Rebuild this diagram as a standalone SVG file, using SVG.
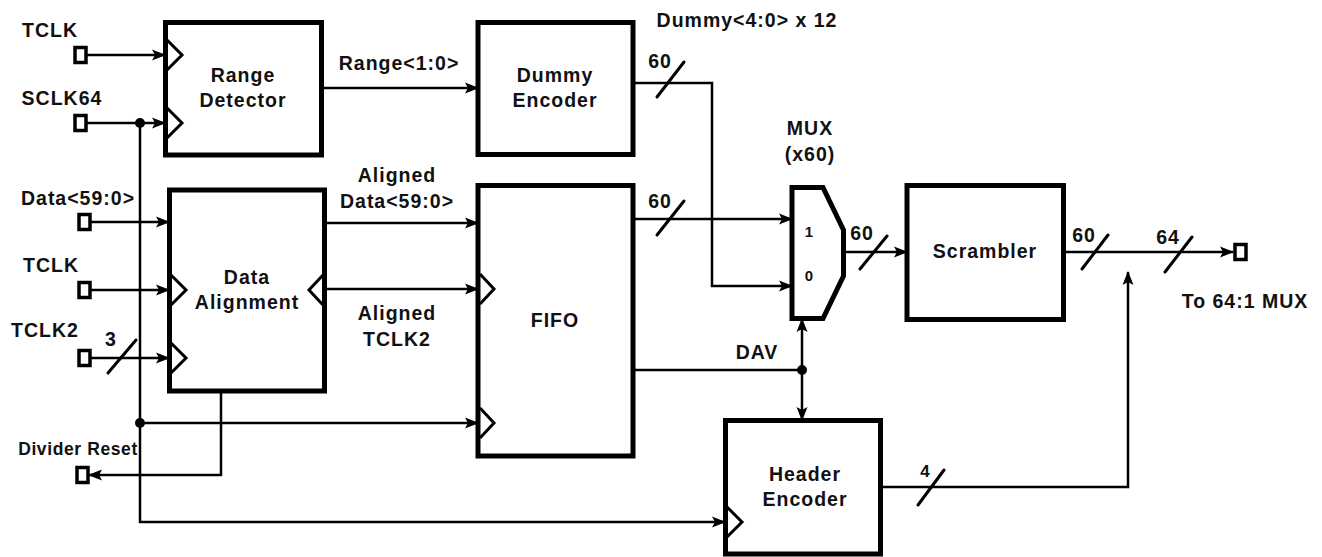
<svg xmlns="http://www.w3.org/2000/svg" width="1322" height="557" viewBox="0 0 1322 557">
<defs>
<marker id="ah" markerWidth="14" markerHeight="12" refX="13" refY="6" orient="auto" markerUnits="userSpaceOnUse"><path d="M0,0.5 L14,6 L0,11.5 L3,6 Z" fill="#000"/></marker>
<style>
.box{fill:#fff;stroke:#000;stroke-width:5}
.clk{fill:none;stroke:#000;stroke-width:3;stroke-linejoin:miter}
.pin{fill:#fff;stroke:#000;stroke-width:3.5}
.w{fill:none;stroke:#000;stroke-width:2.5}
.sl{stroke:#000;stroke-width:3;stroke-linecap:round}
text{font-family:"Liberation Sans",Arial,sans-serif;font-weight:bold;font-size:19.5px;letter-spacing:1px;fill:#111}
.c{text-anchor:middle}
.sm{font-size:15px;letter-spacing:0}
.lb{font-size:17.5px;letter-spacing:0.6px}
</style>
</defs>
<rect width="1322" height="557" fill="#fff"/>

<g id="connectors">
<path class="w" d="M86,55 H165" marker-end="url(#ah)"/>
<path class="w" d="M86,123 H165" marker-end="url(#ah)"/>
<path class="w" d="M140,123 V522 H725" marker-end="url(#ah)"/>
<path class="w" d="M140,423 H478" marker-end="url(#ah)"/>
<path class="w" d="M90,222 H169" marker-end="url(#ah)"/>
<path class="w" d="M90,290 H169" marker-end="url(#ah)"/>
<path class="w" d="M90,358 H169" marker-end="url(#ah)"/>
<path class="w" d="M221,392 V475 H89" marker-end="url(#ah)"/>
<path class="w" d="M324,88 H478" marker-end="url(#ah)"/>
<path class="w" d="M324,223 H478" marker-end="url(#ah)"/>
<path class="w" d="M324,289 H478" marker-end="url(#ah)"/>
<path class="w" d="M633,83 H712 V286 H792" marker-end="url(#ah)"/>
<path class="w" d="M633,219 H792" marker-end="url(#ah)"/>
<path class="w" d="M843,252 H907" marker-end="url(#ah)"/>
<path class="w" d="M633,370 H802"/>
<path class="w" d="M802,370 V319" marker-end="url(#ah)"/>
<path class="w" d="M802,370 V420" marker-end="url(#ah)"/>
<path class="w" d="M880,487 H1128 V272" marker-end="url(#ah)"/>
<path class="w" d="M1063,252 H1233" marker-end="url(#ah)"/>
<circle cx="140" cy="123" r="5"/>
<circle cx="140" cy="423" r="5"/>
<circle cx="802" cy="370" r="5"/>
<line class="sl" x1="108" y1="373" x2="136" y2="340"/>
<line class="sl" x1="657" y1="97" x2="684" y2="62"/>
<line class="sl" x1="657" y1="235" x2="684" y2="201"/>
<line class="sl" x1="860" y1="269" x2="887" y2="236"/>
<line class="sl" x1="1082" y1="269" x2="1108" y2="235"/>
<line class="sl" x1="1165" y1="272" x2="1192" y2="237"/>
<line class="sl" x1="918" y1="505" x2="944" y2="470"/>
<text x="111" y="346" class="c">3</text>
<text x="660" y="68" class="c">60</text>
<text x="660" y="208" class="c">60</text>
<text x="862" y="240" class="c">60</text>
<text x="1084" y="242" class="c">60</text>
<text x="1168" y="244" class="c">64</text>
<text x="925" y="477" class="c" style="font-size:17px;letter-spacing:0">4</text>
<text x="399" y="70" class="c">Range&lt;1:0&gt;</text>
<text x="397" y="182" class="c">Aligned</text>
<text x="397" y="208" class="c">Data&lt;59:0&gt;</text>
<text x="397" y="320" class="c">Aligned</text>
<text x="397" y="346" class="c">TCLK2</text>
<text x="747" y="27" class="c">Dummy&lt;4:0&gt; x 12</text>
<text x="757" y="359" class="c">DAV</text>
</g>

<g id="pins">
<rect class="pin" x="75" y="47.5" width="11" height="15"/>
<text x="50" y="37" class="c">TCLK</text>
<rect class="pin" x="75" y="115.5" width="11" height="15"/>
<text x="62" y="105" class="c">SCLK64</text>
<rect class="pin" x="79" y="214.5" width="11" height="15"/>
<text x="78" y="205" class="c">Data&lt;59:0&gt;</text>
<rect class="pin" x="79" y="282.5" width="11" height="15"/>
<text x="51" y="272" class="c">TCLK</text>
<rect class="pin" x="79" y="350.5" width="11" height="15"/>
<text x="45" y="337" class="c">TCLK2</text>
<rect class="pin" x="77" y="467.5" width="11" height="15"/>
<text x="78" y="455" class="c lb">Divider Reset</text>
<rect class="pin" x="1235" y="244.5" width="11" height="15"/>
<text x="1245" y="308" class="c">To 64:1 MUX</text>
</g>

<g id="range-detector">
<rect class="box" x="165.5" y="22.5" width="156" height="132.5"/>
<polyline class="clk" points="167,40 182,55 167,70"/>
<polyline class="clk" points="167,108 182,123 167,138"/>
<text x="243" y="82" class="c">Range</text>
<text x="243" y="107" class="c">Detector</text>
</g>

<g id="data-alignment">
<rect class="box" x="169.5" y="190" width="155" height="201"/>
<polyline class="clk" points="171,275 186,290 171,305"/>
<polyline class="clk" points="171,343 186,358 171,373"/>
<polyline class="clk" points="323,275 309,290 323,305"/>
<text x="247" y="284" class="c">Data</text>
<text x="247" y="309" class="c">Alignment</text>
</g>

<g id="dummy-encoder">
<rect class="box" x="478" y="22.5" width="155" height="132"/>
<text x="555" y="82" class="c">Dummy</text>
<text x="555" y="107" class="c">Encoder</text>
</g>

<g id="fifo">
<rect class="box" x="478" y="185.5" width="155" height="270.5"/>
<polyline class="clk" points="480,274 494,289 480,304"/>
<polyline class="clk" points="480,408 494,423 480,438"/>
<text x="555" y="327" class="c">FIFO</text>
</g>

<g id="mux">
<polygon class="box" points="792,187.5 823,187.5 843.5,230 843.5,276 823,318.5 792,318.5"/>
<text x="809" y="237" class="c sm">1</text>
<text x="809" y="281" class="c sm">0</text>
<text x="810" y="135" class="c">MUX</text>
<text x="810" y="161" class="c">(x60)</text>
</g>

<g id="scrambler">
<rect class="box" x="907" y="185.5" width="156.5" height="134"/>
<text x="985" y="258" class="c">Scrambler</text>
</g>

<g id="header-encoder">
<rect class="box" x="725.5" y="420.5" width="155" height="133.5"/>
<polyline class="clk" points="727,507 742,522 727,537"/>
<text x="805" y="481" class="c">Header</text>
<text x="805" y="506" class="c">Encoder</text>
</g>
</svg>
